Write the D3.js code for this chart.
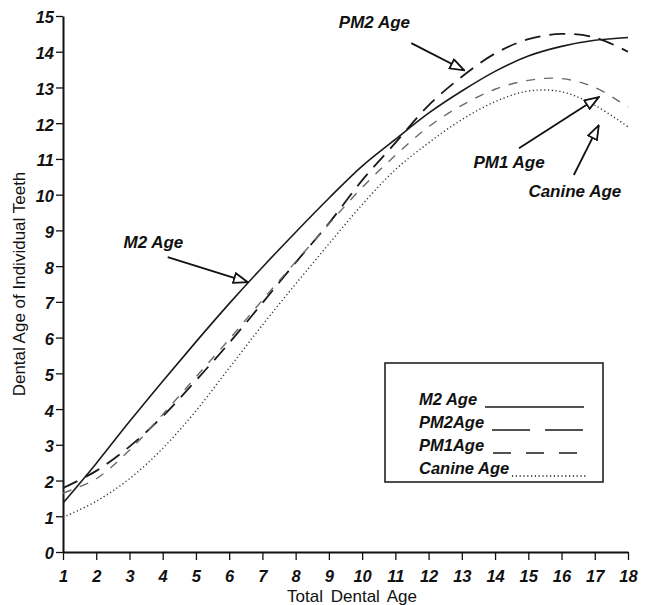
<!DOCTYPE html>
<html>
<head>
<meta charset="utf-8">
<script src="https://cdn.jsdelivr.net/npm/d3@7"></script>
<style>
  body { margin: 0; background: #fff; }
  svg { display: block; font-family: "Liberation Sans", Arial, sans-serif; }
  .tick text { font-size: 16.5px; font-weight: bold; font-style: italic; fill: #111; }
  .lbl { font-size: 17px; font-weight: bold; font-style: italic; fill: #111; }
  .leg { font-size: 16.5px; font-weight: bold; font-style: italic; fill: #111; }
</style>
</head>
<body>
<svg id="chart" width="652" height="605"></svg>
<script>
// total dental age (x) and the age of each tooth group (y)
const totalAge = [1, 2, 3, 4, 5, 6, 7, 8, 9, 10, 11, 12, 13, 14, 15, 16, 17, 18];
const m2Age     = [1.37, 2.48, 3.65, 4.78, 5.88, 6.95, 7.97, 8.95, 9.9, 10.8, 11.55, 12.28, 12.9, 13.45, 13.88, 14.15, 14.32, 14.4];
const pm2Age    = [1.79, 2.27, 2.95, 3.8, 4.8, 5.85, 6.97, 8.1, 9.2, 10.4, 11.45, 12.5, 13.3, 13.95, 14.35, 14.5, 14.4, 14.0];
const pm1Age    = [1.65, 2.05, 2.85, 3.85, 4.9, 5.95, 7.05, 8.12, 9.18, 10.2, 11.1, 11.9, 12.5, 12.95, 13.2, 13.25, 13.0, 12.45];
const canineAge = [0.97, 1.42, 2.05, 2.9, 3.95, 5.15, 6.35, 7.5, 8.62, 9.72, 10.7, 11.45, 12.1, 12.6, 12.9, 12.88, 12.5, 11.9];

const yTicks = d3.range(0, 16);
const xTicks = totalAge;

// callouts: label position, arrow tail and arrow tip, in data units
const callouts = [
  { text: "PM2 Age",    lx: 10.37, ly: 14.66, tx: 11.48, ty: 14.24, hx: 13.07, hy: 13.48 },
  { text: "M2 Age",     lx: 3.72,  ly: 8.5,   tx: 4.15,  ty: 8.25,  hx: 6.56,  hy: 7.55 },
  { text: "PM1 Age",    lx: 14.42, ly: 10.74, tx: 14.72, ty: 11.3,  hx: 17.12, hy: 12.73 },
  { text: "Canine Age", lx: 16.4,  ly: 9.93,  tx: 16.37, ty: 10.55, hx: 17.12, hy: 11.94 }
];

const seriesNames = ["M2 Age", "PM2Age", "PM1Age", "Canine Age"];
const seriesStyle = [
  { stroke: "#1a1a1a", width: 1.6, dash: null },
  { stroke: "#1a1a1a", width: 1.8, dash: "16,9" },
  { stroke: "#6a6a6a", width: 1.4, dash: "9,9" },
  { stroke: "#333", width: 1.4, dash: "1.2,2.6" }
];
const seriesData = [m2Age, pm2Age, pm1Age, canineAge];

const svg = d3.select("#chart");

const x = d3.scaleLinear().domain([1, 18]).range([63, 628]);
const y = d3.scaleLinear().domain([0, 15]).range([552, 16]);

// axes
const xAxis = d3.axisBottom(x).tickValues(xTicks).tickFormat(d3.format("d"))
  .tickSizeInner(8).tickSizeOuter(0).tickPadding(10);
const yAxis = d3.axisLeft(y).tickValues(yTicks).tickFormat(d3.format("d"))
  .tickSizeInner(7).tickSizeOuter(0).tickPadding(2);

const gx = svg.append("g").attr("transform", `translate(0,${y(0)})`).call(xAxis);
const gy = svg.append("g").attr("transform", `translate(${x(1)},0)`).call(yAxis);
[gx, gy].forEach(g => {
  g.select(".domain").attr("stroke", "#111").attr("stroke-width", 2);
  g.selectAll(".tick line").attr("stroke", "#111").attr("stroke-width", 1.3);
});
gy.selectAll(".tick text").attr("dy", "0.42em");

// axis titles
svg.append("text")
  .attr("x", 352).attr("y", 602)
  .attr("text-anchor", "middle")
  .style("font-size", "17px").style("word-spacing", "3px").attr("fill", "#111")
  .text("Total Dental Age");
svg.append("text")
  .attr("transform", "translate(25,284) rotate(-90)")
  .attr("text-anchor", "middle")
  .style("font-size", "17px").attr("fill", "#111")
  .text("Dental Age of Individual Teeth");

// curves
const line = d3.line()
  .x((d, i) => x(totalAge[i]))
  .y(d => y(d))
  .curve(d3.curveCatmullRom.alpha(0.5));

seriesData.forEach((vals, k) => {
  const s = seriesStyle[k];
  svg.append("path")
    .datum(vals)
    .attr("d", line)
    .attr("fill", "none")
    .attr("stroke", s.stroke)
    .attr("stroke-width", s.width)
    .attr("stroke-dasharray", s.dash);
});

// open triangle arrowhead
svg.append("defs").append("marker")
  .attr("id", "tri")
  .attr("viewBox", "0 0 16 12")
  .attr("refX", 15).attr("refY", 6)
  .attr("markerUnits", "userSpaceOnUse")
  .attr("markerWidth", 16).attr("markerHeight", 12)
  .attr("orient", "auto")
  .append("path")
  .attr("d", "M1,1 L15,6 L1,11 Z")
  .attr("fill", "#fff").attr("stroke", "#111").attr("stroke-width", 1.8);

callouts.forEach(c => {
  svg.append("line")
    .attr("x1", x(c.tx)).attr("y1", y(c.ty))
    .attr("x2", x(c.hx)).attr("y2", y(c.hy))
    .attr("stroke", "#111").attr("stroke-width", 1.8)
    .attr("marker-end", "url(#tri)");
  svg.append("text").attr("class", "lbl")
    .attr("x", x(c.lx)).attr("y", y(c.ly))
    .attr("text-anchor", "middle")
    .text(c.text);
});

// legend
const lg = svg.append("g");
lg.append("rect")
  .attr("x", 385).attr("y", 363).attr("width", 218).attr("height", 119)
  .attr("fill", "#fff").attr("stroke", "#222").attr("stroke-width", 1.6);

const legendLines = [
  { x1: 485, x2: 584 },
  { x1: 492, x2: 586 },
  { x1: 493, x2: 582 },
  { x1: 512, x2: 588 }
];
const legendDash = [null, "38,15", "18,15", "1.2,2.6"];

seriesNames.forEach((name, k) => {
  const by = 405 + k * 23;
  lg.append("text").attr("class", "leg")
    .attr("x", 419).attr("y", by)
    .text(name);
  lg.append("line")
    .attr("x1", legendLines[k].x1).attr("x2", legendLines[k].x2)
    .attr("y1", by + 2).attr("y2", by + 2)
    .attr("stroke", "#1a1a1a")
    .attr("stroke-width", k === 3 ? 1.6 : 1.5)
    .attr("stroke-dasharray", legendDash[k]);
});
</script>
</body>
</html>
